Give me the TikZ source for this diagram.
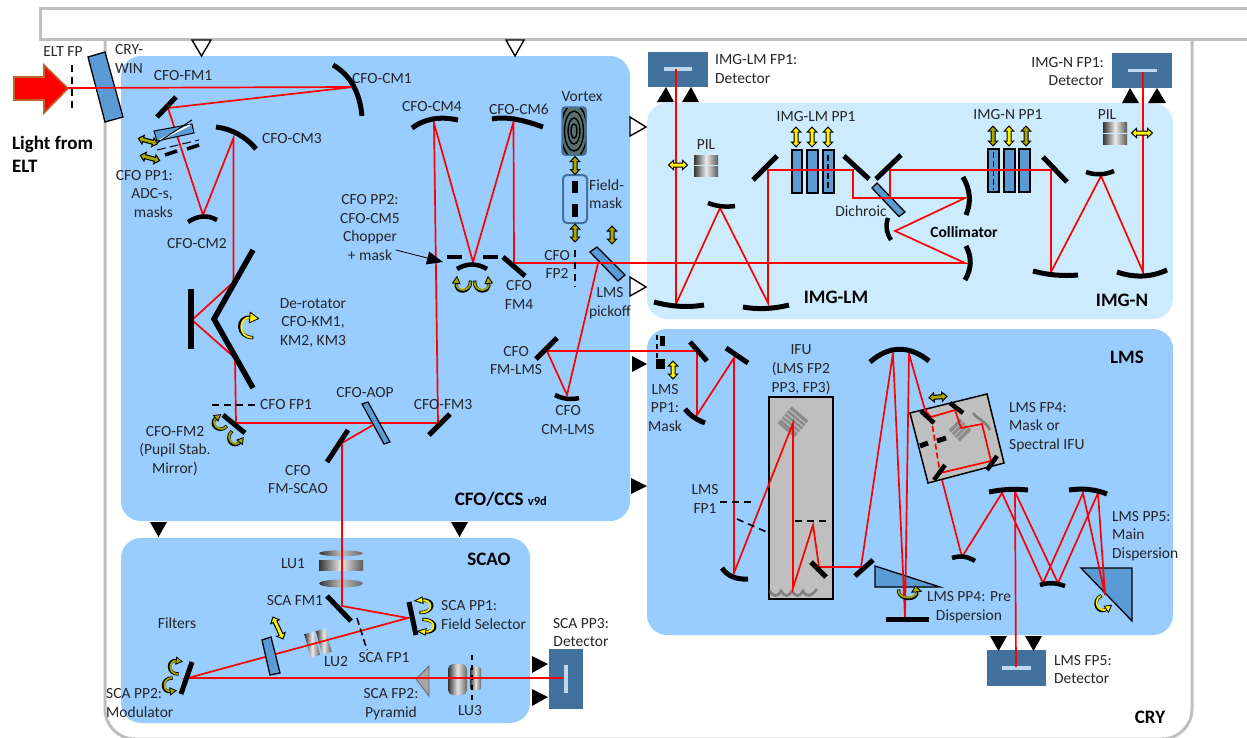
\documentclass[tikz,border=0pt]{standalone}
\usepackage{fontspec}
\setmainfont{Carlito}
\usetikzlibrary{arrows.meta,shapes.geometric,calc}
\definecolor{panelblue}{HTML}{99CCFF}
\definecolor{panellight}{HTML}{CCEBFF}
\definecolor{glass}{HTML}{5B9BD5}
\definecolor{det}{HTML}{41719C}
\definecolor{detbar}{HTML}{BDD7EE}
\definecolor{frameg}{HTML}{BFBFBF}
\definecolor{boxg}{HTML}{BFBFBF}
\definecolor{olive}{HTML}{A8A800}
\definecolor{txt}{HTML}{262626}
\definecolor{rayred}{HTML}{FF0000}
\definecolor{arrowedge}{HTML}{C0652A}
\tikzset{
  panel/.style={rounded corners=20pt,draw=none},
  mirror/.style={line width=5pt,black},
  ray/.style={rayred,line width=1.7pt,line join=miter},
  optic/.style={fill=glass,draw=black,line width=1.3pt},
  detbox/.style={fill=det,draw=none},
  mountopen/.style={fill=white,draw=black,line width=1.4pt},
  mountfull/.style={fill=black,draw=none},
  lbl/.style={text=txt,inner sep=0pt,align=center,font=\fontsize{15.5}{18.6}\selectfont},
  lbll/.style={lbl,align=left,anchor=west},
  lblr/.style={lbl,align=right,anchor=east},
  bold/.style={text=black,inner sep=0pt,font=\fontsize{19}{22}\selectfont\bfseries},
  dashline/.style={black,line width=1.6pt,dash pattern=on 7pt off 5pt},
}
% curved mirror as a quadratic: options, start, control, end
\newcommand{\cmirror}[4][]{\draw[mirror,#1] (#2) .. controls ($(#2)!.667!(#3)$) and ($(#4)!.667!(#3)$) .. (#4);}
% double arrow: x y angle halflength colour
\newcommand{\dblarr}[5]{\draw[shift={(#1,#2)},rotate=#3,fill=#5,draw=black,line width=1pt]
  (-#4,0) -- (-#4+5,-4.6) -- (-#4+5,-2) -- (#4-5,-2) -- (#4-5,-4.6) -- (#4,0) -- (#4-5,4.6) -- (#4-5,2) -- (-#4+5,2) -- (-#4+5,4.6) -- cycle;}
% rotation arrow: x y transform colour
\newcommand{\rotarr}[4]{\begin{scope}[shift={(#1,#2)},#3]
  \draw[black,line width=3.4pt] (8,10) .. controls (-9,11) and (-9,-12) .. (6,-9);
  \draw[#4,line width=1.8pt] (7,10) .. controls (-7,10.5) and (-7,-10.5) .. (6,-9);
  \draw[fill=#4,draw=black,line width=.8pt] (5,-14) -- (13,-8) -- (4,-4) -- cycle;
\end{scope}}
% grey lens block: x0 y0 x1 y1
\newcommand{\lensblock}[4]{\shade[left color=black!80,right color=black!65,middle color=black!8] (#1,#2) rectangle (#3,#4);}
\begin{document}
\begin{tikzpicture}[x=1pt,y=-1pt]
\useasboundingbox (0,0) rectangle (1247,737);
\clip (0,0) rectangle (1247,737);
\fill[white] (0,0) rectangle (1247,737);
% frames
\draw[frameg,line width=3pt] (40,8) rectangle (1270,39);
\draw[frameg,line width=3pt,rounded corners=30pt] (105,39) -- (105,739) -- (1192,739) -- (1192,39);
% panels
\fill[panelblue,panel] (121,56) rectangle (630,521);
\fill[panellight,panel] (647,103) rectangle (1173,319);
\fill[panelblue,panel] (647,329) rectangle (1173,635);
\fill[panelblue,panel] (121,538) rectangle (530,723);
% detectors
\fill[detbox] (648,52) rectangle (708,87);
\fill[detbar] (664,67.3) rectangle (692,70.7);
\fill[detbox] (1112,53) rectangle (1172,88);
\fill[detbar] (1128,68.8) rectangle (1157,72.2);
\fill[detbox] (987,650) rectangle (1046,686);
\fill[detbar] (1002,666.3) rectangle (1031,669.7);
\fill[detbox] (549,649) rectangle (583,709);
\fill[detbar] (564.3,665) rectangle (567.7,693);
% mounts
\draw[mountopen] (192,40) -- (211,40) -- (201.5,56) -- cycle;
\draw[mountopen] (506,40) -- (524,40) -- (515,56) -- cycle;
\draw[mountopen] (630,117) -- (630,136) -- (646,127) -- cycle;
\draw[mountopen] (630,277) -- (630,296) -- (646,287) -- cycle;
\fill[mountfull] (657,102) -- (666,87) -- (674,102) -- cycle;
\fill[mountfull] (682,102) -- (691,87) -- (699,102) -- cycle;
\fill[mountfull] (1122,103) -- (1130,88) -- (1139,103) -- cycle;
\fill[mountfull] (1148,103) -- (1157,88) -- (1166,103) -- cycle;
\fill[mountfull] (150,522) -- (158.5,537) -- (167,522) -- cycle;
\fill[mountfull] (451,522) -- (459.5,537) -- (468,522) -- cycle;
\fill[mountfull] (632,356) -- (647,364) -- (632,372) -- cycle;
\fill[mountfull] (631,478) -- (647,486) -- (631,494) -- cycle;
\fill[mountfull] (532,656) -- (548,664) -- (532,673) -- cycle;
\fill[mountfull] (532,689) -- (548,697) -- (532,706) -- cycle;
\fill[mountfull] (990,636) -- (998.5,651) -- (1007,636) -- cycle;
\fill[mountfull] (1025,636) -- (1033.5,651) -- (1042,636) -- cycle;
% input arrow and window
\draw[fill=red,draw=arrowedge,line width=1.6pt] (14,77) -- (44,77) -- (44,65) -- (68,88.5) -- (44,113) -- (44,100) -- (14,100) -- cycle;
\draw[dashline] (72,65) -- (72,113);
\draw[optic] (88,57) -- (105,52) -- (123,117) -- (105,122) -- cycle;
% boxes under the rays
\fill[boxg,draw=black,line width=1.5pt] (769,397) rectangle (833,599);
\fill[boxg,draw=black,line width=1.5pt] (910,413) -- (987,394) -- (1004,463) -- (928,483) -- cycle;
% gratings
\begin{scope}[shift={(793,422)},rotate=-40]
  \fill[black!45] (-11,-11) rectangle (11,11);
  \foreach \k in {-7,-3,1,5}{\draw[boxg,line width=1pt] (-11,\k) -- (11,\k);}
\end{scope}
\begin{scope}[shift={(960,430)},rotate=45]
  \fill[black!45] (-8,-8) rectangle (8,8);
  \foreach \k in {-4,0,4}{\draw[boxg,line width=.8pt] (-8,\k) -- (8,\k);}
\end{scope}
\draw[black!50,line width=2.6pt] (973,413) .. controls (978,420) and (985,420) .. (990,430);
\draw[black!50,line width=2.6pt] (770,591) .. controls (773,597) and (778,597) .. (781,591) .. controls (784,597) and (789,597) .. (792,591) .. controls (795,597) and (800,597) .. (803,591) .. controls (806,597) and (811,597) .. (817,589);
% filters and prisms under the rays
\draw[optic] (792,150) rectangle (802,193);
\draw[optic] (807,150) rectangle (818,193);
\draw[optic] (823,150) rectangle (834,193);
\draw[black,line width=1.2pt,dash pattern=on 6pt off 3pt] (828,155) -- (828,190);
\draw[optic] (988,149) rectangle (999,192);
\draw[optic] (1004,149) rectangle (1015,192);
\draw[optic] (1019,149) rectangle (1030,192);
\draw[black,line width=1.2pt,dash pattern=on 6pt off 3pt] (993.5,152) -- (993.5,190);
\draw[optic] (872,188) -- (877,183) -- (905,212) -- (899,216.5) -- cycle;
\draw[optic] (590,252) -- (597,247) -- (625,275) -- (618,281) -- cycle;
\draw[optic] (875,566) -- (875,587) -- (940,587) -- cycle;
\draw[optic] (1081,568) -- (1132,568) -- (1132,621) -- cycle;
\fill[black!35,draw=black!60,line width=.8pt] (416,679) -- (429,666) -- (429,696) -- cycle;
% lenses
\shade[left color=black!80,right color=black!60,middle color=black!25] (341,553.3) ellipse (22 and 3);
\lensblock{319}{560}{363}{570}
\shade[left color=black!80,right color=black!60,middle color=black!25] (341,583.5) ellipse (22 and 4);
\begin{scope}[shift={(318,643)},rotate=15]
  \lensblock{-11}{-12}{-1}{12}
  \lensblock{1}{-12}{11}{12}
\end{scope}
\lensblock{694}{155}{718}{164}
\lensblock{694}{166}{718}{176}
\lensblock{1103}{122}{1127}{132}
\lensblock{1103}{134}{1127}{144}
\shade[left color=black!80,right color=black!60,middle color=black!10,rounded corners=5pt] (448,664) rectangle (467,695);
\shade[left color=black!80,right color=black!60,middle color=black!10,rounded corners=2pt] (470,667) rectangle (481,690);
\draw[black,line width=1.4pt,dash pattern=on 5pt off 5pt] (472,655) -- (472,700);
% vortex and field mask
\begin{scope}
  \clip (562,107) rectangle (586,155);
  \fill[black!40!teal!30!gray] (562,107) rectangle (586,155);
  \foreach \a/\b in {13/27,9.5/20,6/13,3/7}{\draw[black,line width=1.4pt] (574,131) ellipse ({\a} and {\b});}
\end{scope}
\draw[det,line width=1.5pt,rounded corners=3pt] (562,107) rectangle (586,155);
\draw[det,line width=2pt,rounded corners=4pt] (563,175) rectangle (587,223);
\fill[black] (572,181) rectangle (578,193);
\fill[black] (572,204) rectangle (578,217);
% rays
\draw[ray] (68,88) -- (353,87) -- (168,108) -- (203,215) -- (233.5,138) -- (233.5,282) -- (192,320) -- (235,358) -- (236,423) -- (438,423) -- (434,123) -- (473,262) -- (513.5,122) -- (514,263) -- (965,263) -- (895,231) -- (965,198) -- (853,198) -- (853,170) -- (768,170) -- (768,303) -- (720,208) -- (676,304) -- (676,69);
\draw[ray] (890,198) -- (890,170) -- (1051,170) -- (1051,272) -- (1101,176) -- (1143,272) -- (1143,72);
\draw[ray] (598,263) -- (567,395) -- (547,351) -- (697,351) -- (697,415) -- (734,358) -- (734,573) -- (793,423) -- (793,588) -- (813,525) -- (819,567) -- (861,567) -- (893,353) -- (905,617) -- (909,354) -- (925,410);
\draw[ray] (925,410) -- (931,417) -- (955,410) -- (961,428) -- (982,424) -- (991,461) -- (940,473);
\draw[ray,dash pattern=on 6pt off 3pt] (931,417) -- (940,473);
\draw[ray] (942,480) -- (962,557) -- (1002,493) -- (1043,583) -- (1083,493) -- (1105,595) -- (1098,493) -- (1058,583) -- (1015,492) -- (1016,667);
\draw[ray] (373,425) -- (342,443) -- (342,606) -- (408,618) -- (188,678) -- (563,678);
% optics over the rays
\draw[optic,line width=1.2pt] (362,404) -- (368,402) -- (390,442) -- (384,444) -- cycle;
\draw[optic] (262,640) -- (271,637) -- (280,673) -- (270,675) -- cycle;
% CFO mirrors
\cmirror{333,65}{358.5,79.5}{362,116}
\draw[mirror] (157,117) -- (176,97);
\cmirror[line width=4.5pt]{188,222}{203,212}{217,220}
\cmirror{216,127}{240,130}{256,149}
\cmirror{412,128}{431,114}{458,120}
\cmirror{492,119}{510,115}{543,127}
\cmirror[line width=4.5pt]{457,269}{472,260}{487,269}
\draw[black,line width=4pt] (447,257) -- (462,257);
\draw[black,line width=4pt] (483,257) -- (498,257);
\draw[mirror] (503,257) -- (525,276);
\draw[mirror,line width=5.5pt] (253,250) -- (214,319) -- (253,388);
\draw[mirror,line width=6pt] (191,289) -- (191,349);
\draw[dashline] (212,405) -- (257,405);
\draw[mirror] (223,415) -- (245,433);
\draw[mirror] (348,430) -- (327,462);
\draw[mirror] (450,414) -- (429,435);
\draw[mirror] (557,338) -- (536,359);
\cmirror[line width=4.5pt]{555,395}{567,401}{579,398}
\draw[dashline] (575,250) -- (575,287);
% CFO PP1
\draw[optic,line width=1pt] (154,131) -- (192,124) -- (194,133) -- (157,141) -- cycle;
\draw[white,line width=1.6pt] (160,140) -- (190,125);
\draw[black,line width=1pt] (157,143) -- (192,120);
\draw[black,line width=1pt,dash pattern=on 9pt off 4pt] (157,150) -- (199,140);
\draw[black,line width=3.5pt] (165,155) -- (177,151);
\draw[black,line width=3.5pt] (187,149) -- (199,145);
% pointer of CFO PP2
\draw[black,line width=.8pt,-{Triangle[length=16pt,width=13pt]}] (396,250) -- (443,262);
% IMG mirrors
\cmirror{654,302}{680,309}{704,305}
\cmirror{743,307}{765,311}{789,305}
\cmirror[line width=4.5pt]{708,203}{721,208}{735,206}
\draw[mirror] (753,180) -- (777,156);
\draw[mirror] (844,156) -- (869,179);
\draw[mirror] (876,179) -- (901,155);
\cmirror[line width=4.5pt]{888,218}{884,229}{891,240}
\cmirror{963,177}{974,196}{966,215}
\cmirror{966,246}{975,263}{965,280}
\draw[mirror] (1043,157) -- (1067,182);
\cmirror[line width=4.5pt]{1086,172}{1100,177}{1114,171}
\cmirror{1033,271}{1055,277}{1078,275}
\cmirror{1117,272}{1143,281}{1167,270}
% LMS mirrors
\fill[black] (660,336) rectangle (665,346);
\fill[black] (656,359) rectangle (665,369);
\draw[black,line width=1.2pt,dash pattern=on 5pt off 4pt] (657,335) -- (657,370);
\draw[mirror] (690,342) -- (707,361);
\draw[mirror] (726,348) -- (748,363);
\cmirror{685,409}{692,418}{705,423}
\cmirror{722,568}{730,580}{748,579}
\draw[dashline] (720,502) -- (755,502);
\draw[dashline] (737,519) -- (769,533);
\draw[dashline] (795,521) -- (830,521);
\draw[mirror] (811,562) -- (826,577);
\draw[mirror] (873,560) -- (855,576);
\cmirror{870,362}{899,337}{929,361}
\fill[black] (886,617) rectangle (929,622);
\draw[mirror,line width=4.5pt] (921,411) -- (934,423);
\draw[mirror,line width=4.5pt] (950,403) -- (963,413);
\draw[mirror,line width=4.5pt] (997,456) -- (987,470);
\draw[mirror,line width=4.5pt] (945,465) -- (934,480);
\draw[black,line width=5pt] (920,446) -- (928,443);
\draw[black,line width=5pt] (937,441) -- (946,438);
\cmirror[line width=4.5pt]{952,558}{964,554}{975,561}
\cmirror{989,492}{1008,488}{1028,490}
\cmirror{1069,490}{1090,487}{1107,494}
\cmirror[line width=4.5pt]{1040,585}{1052,581}{1065,586}
% SCAO mirrors
\draw[mirror] (327,596) -- (351,621);
\draw[black,line width=1.6pt,dash pattern=on 7pt off 4pt] (357,618) -- (367,650);
\draw[mirror] (409,602) -- (416,635);
\draw[mirror] (192,662) -- (181,694);
% translation arrows
\dblarr{148}{141}{-15}{10}{olive}
\dblarr{150}{158}{-15}{10}{olive}
\dblarr{575}{165.5}{90}{9}{olive}
\dblarr{575}{233}{90}{9}{olive}
\dblarr{612}{235}{90}{9}{olive}
\dblarr{678}{165}{0}{9.5}{yellow}
\dblarr{796}{137}{90}{10}{yellow}
\dblarr{812}{137}{90}{10}{yellow}
\dblarr{828}{137}{90}{10}{yellow}
\dblarr{993}{136}{90}{10}{olive}
\dblarr{1009}{136}{90}{10}{yellow}
\dblarr{1026}{136}{90}{10}{olive}
\dblarr{1142}{133}{0}{10.5}{yellow}
\dblarr{673}{370}{90}{9}{yellow}
\dblarr{938}{397}{5}{9}{olive}
\dblarr{278}{628}{-65}{12}{yellow}
% rotation arrows
\rotarr{245}{327}{scale=1.05}{yellow}
\rotarr{463}{287}{rotate=90,yscale=.75,xscale=.8}{olive}
\rotarr{482}{287}{rotate=90,yscale=-.75,xscale=.8}{olive}
\rotarr{218}{425}{rotate=45,scale=.7}{olive}
\rotarr{233}{440}{rotate=45,yscale=-.7,xscale=.7}{olive}
\rotarr{427}{606}{xscale=-.95,yscale=.65}{yellow}
\rotarr{430}{626}{xscale=-.95,yscale=-.65}{yellow}
\rotarr{173}{667}{scale=.7}{olive}
\rotarr{167}{685}{yscale=-.7,xscale=.7}{olive}
\rotarr{908}{595}{rotate=90,yscale=-.95,xscale=.7}{olive}
\rotarr{1100}{605}{rotate=30,yscale=-.75,xscale=.75}{yellow}
% labels
\node[lbl] (eltfp) at (63,52) {ELT FP};
\node[lbll] (crywin) at (115,59) {CRY-\\WIN};
\node[bold,align=left,anchor=west,font=\fontsize{19}{23}\selectfont\bfseries] (light) at (12,154) {Light from\\ELT};
\node[lbl] (fm1) at (183,76) {CFO-FM1};
\node[lbl] (cm1) at (382,79) {CFO-CM1};
\node[lbl] (cm3) at (292,139) {CFO-CM3};
\node[lblr] (pp1) at (173,194) {CFO PP1:\\ADC-s,\\masks};
\node[lbl] (cm2) at (197,244) {CFO-CM2};
\node[lbl] (cm4) at (432,107) {CFO-CM4};
\node[lbl] (cm6) at (519,109) {CFO-CM6};
\node[lbl] (vortex) at (582,97) {Vortex};
\node[lbll] (fieldmask) at (589,194) {Field-\\mask};
\node[lbl] (pp2) at (370,227.5) {CFO PP2:\\CFO-CM5\\Chopper\\+ mask};
\node[lbl] (fm4) at (519,295) {CFO\\FM4};
\node[lbl] (fp2) at (557,264.5) {CFO\\FP2};
\node[lbl] (pickoff) at (610,303.5) {LMS\\pickoff};
\node[lbl] (derot) at (313,323) {De-rotator\\CFO-KM1,\\KM2, KM3};
\node[lbl] (fp1) at (286,405) {CFO FP1};
\node[lbl] (aop) at (365,393) {CFO-AOP};
\node[lbl] (fm3) at (443,405) {CFO-FM3};
\node[lbl] (fm2) at (175,451) {CFO-FM2\\(Pupil Stab.\\Mirror)};
\node[lbl] (fmscao) at (298,479.5) {CFO\\FM-SCAO};
\node[bold,anchor=east] (ccs) at (547,499) {CFO/CCS {\fontsize{12.5}{14}\selectfont v9d}};
\node[lbl] (fmlms) at (516,360.5) {CFO\\FM-LMS};
\node[lbl] (cmlms) at (568,420) {CFO\\CM-LMS};
\node[lbl] (lmspp1) at (665,408) {LMS\\PP1:\\Mask};
\node[lbl] (ifu) at (801,369.5) {IFU\\(LMS FP2\\PP3, FP3)};
\node[bold] (lms) at (1127,357) {LMS};
\node[lbll] (fp4) at (1009,427) {LMS FP4:\\Mask or\\Spectral IFU};
\node[lbl] (lmsfp1) at (705,499) {LMS\\FP1};
\node[lbll] (pp5) at (1112,536) {LMS PP5:\\Main\\Dispersion};
\node[lbl] (pp4) at (969,607) {LMS PP4: Pre\\Dispersion};
\node[lbll] (fp5) at (1054,669.5) {LMS FP5:\\Detector};
\node[bold] (cry) at (1150,717) {CRY};
\node[lbll] (imglmfp) at (715,69) {IMG-LM FP1:\\Detector};
\node[lblr] (imgnfp) at (1104,71.5) {IMG-N FP1:\\Detector};
\node[lbl] (imglmpp) at (816,117) {IMG-LM PP1};
\node[lbl] (imgnpp) at (1008,115) {IMG-N PP1};
\node[lbl] (pil1) at (706,145) {PIL};
\node[lbl] (pil2) at (1107,115) {PIL};
\node[lbl] (dichroic) at (861,211) {Dichroic};
\node[bold,font=\fontsize{15.5}{16}\selectfont\bfseries] (collimator) at (964,232) {Collimator};
\node[bold] (imglm) at (836,297) {IMG-LM};
\node[bold] (imgn) at (1122,300) {IMG-N};
\node[bold] (scao) at (489,559) {SCAO};
\node[lbl] (lu1) at (293,564) {LU1};
\node[lbl] (scafm1) at (295,601) {SCA FM1};
\node[lbl] (filters) at (177,623) {Filters};
\node[lbl] (lu2) at (336,662) {LU2};
\node[lbl] (scafp1) at (384,658) {SCA FP1};
\node[lbll] (scapp1) at (441,615) {SCA PP1:\\Field Selector};
\node[lbl] (scapp3) at (581,632.5) {SCA PP3:\\Detector};
\node[lbl] (scafp2) at (391,704) {SCA FP2:\\Pyramid};
\node[lbl] (lu3) at (470,711) {LU3};
\node[lbll] (scapp2) at (106,703) {SCA PP2:\\Modulator};
\end{tikzpicture}
\end{document}
